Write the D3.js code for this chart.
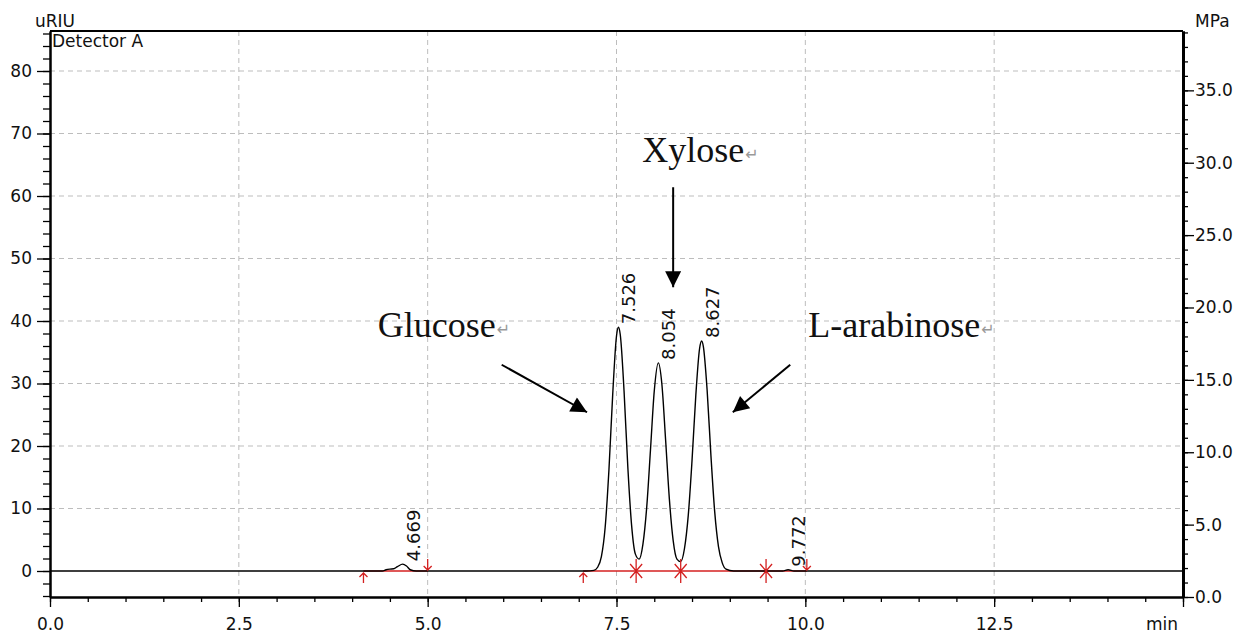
<!DOCTYPE html>
<html>
<head>
<meta charset="utf-8">
<script src="https://cdn.jsdelivr.net/npm/d3@7"></script>
<style>
body { margin: 0; background: #fff; }
</style>
</head>
<body>
<div id="chart"></div>
<script>
// Trace: retention time (min) and RI signal (uRIU)
var traceTime = [0, 4.40, 4.45, 4.50, 4.55, 4.60, 4.669, 4.72, 4.77, 4.85,
	7.10, 7.20, 7.25, 7.30, 7.35, 7.40, 7.45, 7.50, 7.526, 7.55, 7.60, 7.65, 7.70, 7.75,
	7.80, 7.85, 7.90, 7.95, 8.00, 8.054, 8.10, 8.15, 8.20, 8.25, 8.30,
	8.35, 8.40, 8.45, 8.50, 8.55, 8.60, 8.627, 8.65, 8.70, 8.75, 8.80, 8.85, 8.90, 8.95,
	9.05, 9.70, 9.772, 9.85, 15];
var traceSignal = [0, 0, 0.2, 0.3, 0.35, 0.7, 1.1, 0.8, 0.2, 0,
	0, 0.1, 0.6, 2.3, 7.0, 16.2, 28.3, 37.6, 39.0, 37.8, 28.8, 16.6, 7.3, 2.7,
	1.9, 4.3, 10.2, 19.4, 28.8, 33.3, 30.0, 21.0, 11.5, 4.9, 1.9,
	1.5, 3.6, 8.9, 17.7, 28.1, 35.6, 36.8, 35.9, 28.9, 18.5, 9.5, 3.9, 1.3, 0.3,
	0, 0, 0.2, 0, 0];

// peak table
var peakTimes = [4.669, 7.526, 8.054, 8.627, 9.772];
var peakHeights = [1.1, 39.0, 33.3, 36.8, 0.2];

// integration marks (red)
var baselineRuns = [[4.15, 5.0], [7.06, 10.02]];
var baselineStarts = [4.15, 7.06];
var baselineEnds = [5.0, 10.02];
var valleyDrops = [7.76, 8.35, 9.48];

// axis ticks
var timeTicks = [0, 2.5, 5, 7.5, 10, 12.5, 15];
var signalTicks = [0, 10, 20, 30, 40, 50, 60, 70, 80];
var pressureTicks = [0, 5, 10, 15, 20, 25, 30, 35];

// sugar annotations
var sugarNames = ["Glucose", "Xylose", "L-arabinose"];
var sugarTextTime = [4.34, 7.84, 10.04];
var sugarTextSignal = [37.4, 65.4, 37.4];
var arrowFromTime = [5.98, 8.25, 9.80];
var arrowFromSignal = [33.0, 61.4, 33.0];
var arrowToTime = [7.11, 8.25, 9.04];
var arrowToSignal = [25.4, 45.4, 25.4];

var W = 1239, H = 634;
var plotLeft = 50, plotRight = 1183, plotTop = 31, plotBottom = 597;
var tickFont = "DejaVu Sans, Verdana, sans-serif";
var red = "#d42020";

var svg = d3.select("#chart").append("svg")
	.attr("width", W)
	.attr("height", H)
	.style("display", "block");

svg.append("rect").attr("width", W).attr("height", H).attr("fill", "#fff");

//scales
var x = d3.scaleLinear().domain([0, 15]).range([plotLeft, plotRight]);
var y = d3.scaleLinear().domain([-4.16, 86.4]).range([plotBottom, plotTop]);
var yP = d3.scaleLinear().domain([0, 39.1]).range([plotBottom, plotTop]);

//dashed grid
svg.append("g").selectAll("line")
	.data(signalTicks.filter(d => d > 0))
	.enter().append("line")
	.attr("x1", plotLeft).attr("x2", plotRight)
	.attr("y1", d => y(d)).attr("y2", d => y(d))
	.attr("stroke", "#bdbdbd").attr("stroke-dasharray", "5,4");

svg.append("g").selectAll("line")
	.data(timeTicks.filter(d => d > 0 && d < 15))
	.enter().append("line")
	.attr("y1", plotTop).attr("y2", plotBottom)
	.attr("x1", d => x(d)).attr("x2", d => x(d))
	.attr("stroke", "#bdbdbd").attr("stroke-dasharray", "5,4");

//red baselines
svg.append("g").selectAll("line")
	.data(baselineRuns)
	.enter().append("line")
	.attr("x1", d => x(d[0])).attr("x2", d => x(d[1]))
	.attr("y1", y(0)).attr("y2", y(0))
	.attr("stroke", red).attr("stroke-width", 1.6);

//trace
var line = d3.line()
	.x((d, i) => x(traceTime[i]))
	.y(d => y(d))
	.curve(d3.curveMonotoneX);

svg.append("path")
	.datum(traceSignal)
	.attr("d", line)
	.attr("fill", "none")
	.attr("stroke", "#000")
	.attr("stroke-width", 1.4);

//integration markers
var marks = svg.append("g").attr("stroke", red).attr("stroke-width", 1.3).attr("fill", "none");

baselineStarts.forEach(function (t) {
	var cx = x(t), cy = y(0);
	marks.append("path").attr("d", "M" + cx + "," + (cy + 12) + "V" + (cy + 2) +
		"M" + (cx - 4) + "," + (cy + 6) + "L" + cx + "," + (cy + 2) + "L" + (cx + 4) + "," + (cy + 6));
});
baselineEnds.forEach(function (t) {
	var cx = x(t), cy = y(0);
	marks.append("path").attr("d", "M" + cx + "," + (cy - 12) + "V" + (cy - 1) +
		"M" + (cx - 4) + "," + (cy - 5) + "L" + cx + "," + (cy - 1) + "L" + (cx + 4) + "," + (cy - 5));
});
valleyDrops.forEach(function (t) {
	var cx = x(t), cy = y(0);
	marks.append("path").attr("d", "M" + cx + "," + (cy - 12) + "V" + (cy + 12) +
		"M" + (cx - 6) + "," + (cy - 7) + "L" + (cx + 6) + "," + (cy + 7) +
		"M" + (cx + 6) + "," + (cy - 7) + "L" + (cx - 6) + "," + (cy + 7));
});

//peak labels
svg.append("g").selectAll("text")
	.data(peakTimes)
	.enter().append("text")
	.attr("transform", (d, i) => "translate(" + (x(d) + 17) + "," + (y(peakHeights[i]) - 3) + ") rotate(-90)")
	.attr("font-family", tickFont)
	.attr("font-size", 18)
	.attr("fill", "#111")
	.text(d => d.toFixed(3));

//axes
function styleAxis(g, width) {
	g.attr("font-family", tickFont).attr("font-size", 17);
	g.select(".domain").attr("stroke", "#000").attr("stroke-width", width);
	g.selectAll(".tick line").attr("stroke", "#000").attr("stroke-width", 1.3);
	g.selectAll(".tick text").attr("fill", "#111");
}

// left
svg.append("g").attr("transform", "translate(" + plotLeft + ",0)")
	.call(d3.axisLeft(y).tickValues(d3.range(-4, 87, 2)).tickSize(7).tickSizeOuter(0).tickFormat(""))
	.call(g => styleAxis(g, 2));
svg.append("g").attr("transform", "translate(" + plotLeft + ",0)")
	.call(d3.axisLeft(y).tickValues(signalTicks).tickSize(13).tickSizeOuter(0).tickPadding(5).tickFormat(d3.format("d")))
	.call(g => styleAxis(g, 2));

// right
svg.append("g").attr("transform", "translate(" + plotRight + ",0)")
	.call(d3.axisRight(yP).tickValues(d3.range(0, 40, 1)).tickSize(5).tickSizeOuter(0).tickFormat(""))
	.call(g => styleAxis(g, 3));
svg.append("g").attr("transform", "translate(" + plotRight + ",0)")
	.call(d3.axisRight(yP).tickValues(pressureTicks).tickSize(11).tickSizeOuter(0).tickPadding(1).tickFormat(d3.format(".1f")))
	.call(g => styleAxis(g, 3));

// bottom
svg.append("g").attr("transform", "translate(0," + plotBottom + ")")
	.call(d3.axisBottom(x).tickValues(d3.range(0, 15.01, 0.5)).tickSize(5).tickSizeOuter(0).tickFormat(""))
	.call(g => styleAxis(g, 2));
svg.append("g").attr("transform", "translate(0," + plotBottom + ")")
	.call(d3.axisBottom(x).tickValues(timeTicks).tickSize(10).tickSizeOuter(0).tickPadding(11)
		.tickFormat(d => d === 15 ? "" : d3.format(".1f")(d)))
	.call(g => styleAxis(g, 2));

// top frame
svg.append("line")
	.attr("x1", plotLeft).attr("x2", plotRight)
	.attr("y1", plotTop).attr("y2", plotTop)
	.attr("stroke", "#000").attr("stroke-width", 2);

//axis titles
svg.append("text").attr("x", 35).attr("y", 27).attr("font-family", tickFont).attr("font-size", 17).attr("fill", "#111").text("uRIU");
svg.append("text").attr("x", 52).attr("y", 47).attr("font-family", tickFont).attr("font-size", 17).attr("fill", "#111").text("Detector A");
svg.append("text").attr("x", 1195).attr("y", 27).attr("font-family", tickFont).attr("font-size", 17).attr("fill", "#111").text("MPa");
svg.append("text").attr("x", 1146).attr("y", 630).attr("font-family", tickFont).attr("font-size", 17).attr("fill", "#111").text("min");

//annotation arrows
svg.append("defs").append("marker")
	.attr("id", "head")
	.attr("viewBox", "0 0 10 10")
	.attr("refX", 10).attr("refY", 5)
	.attr("markerUnits", "userSpaceOnUse")
	.attr("markerWidth", 18).attr("markerHeight", 16)
	.attr("orient", "auto")
	.append("path").attr("d", "M0,0L10,5L0,10Z").attr("fill", "#000");

svg.append("g").selectAll("line")
	.data(sugarNames)
	.enter().append("line")
	.attr("x1", (d, i) => x(arrowFromTime[i]))
	.attr("y1", (d, i) => y(arrowFromSignal[i]))
	.attr("x2", (d, i) => x(arrowToTime[i]))
	.attr("y2", (d, i) => y(arrowToSignal[i]))
	.attr("stroke", "#000").attr("stroke-width", 2)
	.attr("marker-end", "url(#head)");

var names = svg.append("g").selectAll("text")
	.data(sugarNames)
	.enter().append("text")
	.attr("x", (d, i) => x(sugarTextTime[i]))
	.attr("y", (d, i) => y(sugarTextSignal[i]))
	.attr("font-family", "Liberation Serif, Times New Roman, serif")
	.attr("font-size", 36)
	.attr("fill", "#111");
names.append("tspan").text(d => d);
names.append("tspan")
	.attr("font-family", "DejaVu Sans, sans-serif")
	.attr("font-size", 16)
	.attr("fill", "#999")
	.attr("dx", 1)
	.attr("dy", -2)
	.text("\u21B5");
</script>
</body>
</html>
